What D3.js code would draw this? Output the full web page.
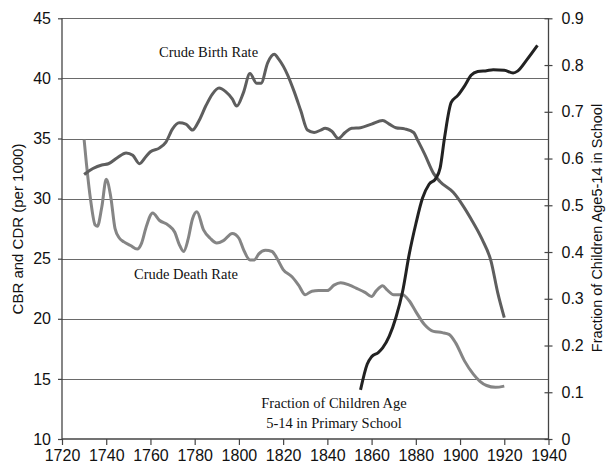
<!DOCTYPE html>
<html>
<head>
<meta charset="utf-8">
<script src="https://cdn.jsdelivr.net/npm/d3@7"></script>
<style>
  html, body { margin: 0; padding: 0; background: #fff; }
  svg { display: block; }
</style>
</head>
<body>
<svg id="chart" width="606" height="466"></svg>
<script>
// Crude birth rate (per 1000)
const cbrYears = [1730,1734,1738,1741,1745,1749,1752,1755,1758,1760,1764,1767,1770,1773,1776,1779,1782,1785,1788,1791,1794,1797,1799,1802,1805,1808,1810,1813,1816,1818,1822,1825,1828,1831,1834,1837,1839,1842,1845,1848,1851,1855,1860,1865,1868,1871,1875,1879,1881,1884,1888,1891,1897,1901,1905,1910,1914,1917,1920];
const cbrValues = [32.0,32.5,32.8,32.9,33.4,33.8,33.6,32.9,33.5,33.9,34.2,34.7,35.8,36.3,36.2,35.7,36.5,37.7,38.7,39.2,38.9,38.3,37.7,38.8,40.4,39.6,39.6,41.3,42.0,41.6,40.3,38.9,37.3,35.7,35.5,35.7,35.85,35.6,35.0,35.5,35.85,35.9,36.2,36.5,36.2,35.9,35.8,35.5,34.8,33.7,32.1,31.4,30.5,29.5,28.3,26.6,24.8,22.2,20.1];

// Crude death rate (per 1000)
const cdrYears = [1730,1731,1733,1735,1736,1738,1740,1742,1744,1746,1748,1751,1754,1756,1758,1761,1764,1768,1771,1773,1775,1777,1779,1781,1784,1787,1790,1793,1797,1800,1802,1805,1807,1809,1812,1815,1817,1820,1824,1827,1830,1833,1836,1840,1843,1846,1850,1853,1857,1860,1862,1865,1867,1870,1874,1877,1880,1884,1888,1892,1895,1898,1902,1906,1909,1912,1916,1920];
const cdrValues = [34.9,33.0,29.8,27.8,27.7,29.3,31.6,30.2,27.5,26.7,26.4,26.1,25.8,26.3,27.6,28.8,28.2,27.8,27.2,26.2,25.6,26.6,28.3,28.9,27.4,26.7,26.3,26.5,27.1,26.7,25.8,24.9,24.9,25.4,25.7,25.6,25.1,24.1,23.5,22.8,22.0,22.3,22.35,22.35,22.8,23.0,22.8,22.55,22.2,21.85,22.3,22.75,22.4,22.0,22.0,21.5,20.6,19.5,18.95,18.85,18.7,18.0,16.5,15.4,14.8,14.45,14.3,14.4];

// Fraction of children aged 5-14 in primary school
const schoolYears = [1855,1858,1860,1863,1865,1868,1871,1874,1877,1880,1883,1886,1889,1891,1893,1896,1899,1902,1905,1908,1912,1915,1920,1924,1926,1930,1935];
const schoolValues = [0.105,0.16,0.176,0.185,0.195,0.22,0.26,0.315,0.395,0.46,0.515,0.545,0.557,0.58,0.645,0.72,0.735,0.755,0.778,0.786,0.788,0.79,0.789,0.783,0.787,0.81,0.842];

// Axis ticks
const xTicks = [1720,1740,1760,1780,1800,1820,1840,1860,1880,1900,1920,1940];
const leftTicks = [10,15,20,25,30,35,40,45];
const rightTicks = [0,0.1,0.2,0.3,0.4,0.5,0.6,0.7,0.8,0.9];

const svg = d3.select("#chart");
const plotLeft = 62, plotRight = 548.5, plotTop = 18.3, plotBottom = 439;

const x = d3.scaleLinear().domain([1720, 1940]).range([plotLeft, plotRight]);
const yL = d3.scaleLinear().domain([10, 45]).range([plotBottom, plotTop]);
const yR = d3.scaleLinear().domain([0, 0.9]).range([plotBottom, plotTop]);

const sans = "'Liberation Sans', Arial, sans-serif";
const serif = "'Liberation Serif', 'Times New Roman', serif";

// Horizontal gridlines at the left-axis ticks
svg.append("g")
  .selectAll("line")
  .data(leftTicks.filter(d => d > 10))
  .join("line")
  .attr("x1", plotLeft).attr("x2", plotRight)
  .attr("y1", d => Math.round(yL(d)) + 0.5).attr("y2", d => Math.round(yL(d)) + 0.5)
  .attr("stroke", "#6a6a6a").attr("stroke-width", 1.2);

// Left axis
const gL = svg.append("g")
  .attr("transform", `translate(${plotLeft},0)`)
  .call(d3.axisLeft(yL).tickValues(leftTicks).tickSize(4).tickPadding(7).tickFormat(d3.format("d")));
// Right axis
const gR = svg.append("g")
  .attr("transform", `translate(${plotRight},0)`)
  .call(d3.axisRight(yR).tickValues(rightTicks).tickSize(4).tickPadding(9)
        .tickFormat(d => d === 0 ? "0" : d3.format(".1f")(d)));
gR.selectAll(".tick line").attr("x1", -4);
// Bottom axis
const gB = svg.append("g")
  .attr("transform", `translate(0,${plotBottom})`)
  .call(d3.axisBottom(x).tickValues(xTicks).tickSize(6).tickPadding(5).tickFormat(d3.format("d")));

[gL, gR, gB].forEach(g => {
  g.select(".domain").attr("stroke", "#444").attr("stroke-width", 1.3);
  g.selectAll(".tick line").attr("stroke", "#444").attr("stroke-width", 1.2);
  g.selectAll(".tick text").attr("fill", "#111").style("font-family", sans).style("font-size", "16px");
});
gL.select(".domain").attr("d", `M0,${plotTop}V${plotBottom}`);
gR.select(".domain").attr("d", `M0,${plotTop}V${plotBottom}`);
gB.select(".domain").attr("d", `M${plotLeft},0H${plotRight}`);

// Series lines
const lineL = d3.line().x(d => x(d[0])).y(d => yL(d[1])).curve(d3.curveMonotoneX);
const lineR = d3.line().x(d => x(d[0])).y(d => yR(d[1])).curve(d3.curveMonotoneX);

svg.append("path")
  .datum(d3.zip(cdrYears, cdrValues))
  .attr("d", lineL).attr("fill", "none")
  .attr("stroke", "#858585").attr("stroke-width", 3).attr("stroke-linejoin", "round");

svg.append("path")
  .datum(d3.zip(cbrYears, cbrValues))
  .attr("d", lineL).attr("fill", "none")
  .attr("stroke", "#5e5e5e").attr("stroke-width", 3).attr("stroke-linejoin", "round");

svg.append("path")
  .datum(d3.zip(schoolYears, schoolValues))
  .attr("d", lineR).attr("fill", "none")
  .attr("stroke", "#222").attr("stroke-width", 3).attr("stroke-linejoin", "round");

// Series labels
const label = (txt, xp, yp, anchor) => svg.append("text")
  .attr("x", xp).attr("y", yp).attr("text-anchor", anchor || "start")
  .style("font-family", serif).style("font-size", "14.5px").attr("fill", "#111")
  .text(txt);

label("Crude Birth Rate", 159, 57);
label("Crude Death Rate", 134, 279);
label("Fraction of Children Age", 334, 408, "middle");
label("5-14 in Primary School", 334, 428, "middle");

// Axis titles
svg.append("text")
  .attr("transform", "translate(23,229) rotate(-90)")
  .attr("text-anchor", "middle")
  .style("font-family", sans).style("font-size", "15px").attr("fill", "#111")
  .text("CBR and CDR (per 1000)");

svg.append("text")
  .attr("transform", "translate(602,228) rotate(-90)")
  .attr("text-anchor", "middle")
  .style("font-family", sans).style("font-size", "14.5px").attr("fill", "#111")
  .text("Fraction of Children Age5-14 in School");
</script>
</body>
</html>
